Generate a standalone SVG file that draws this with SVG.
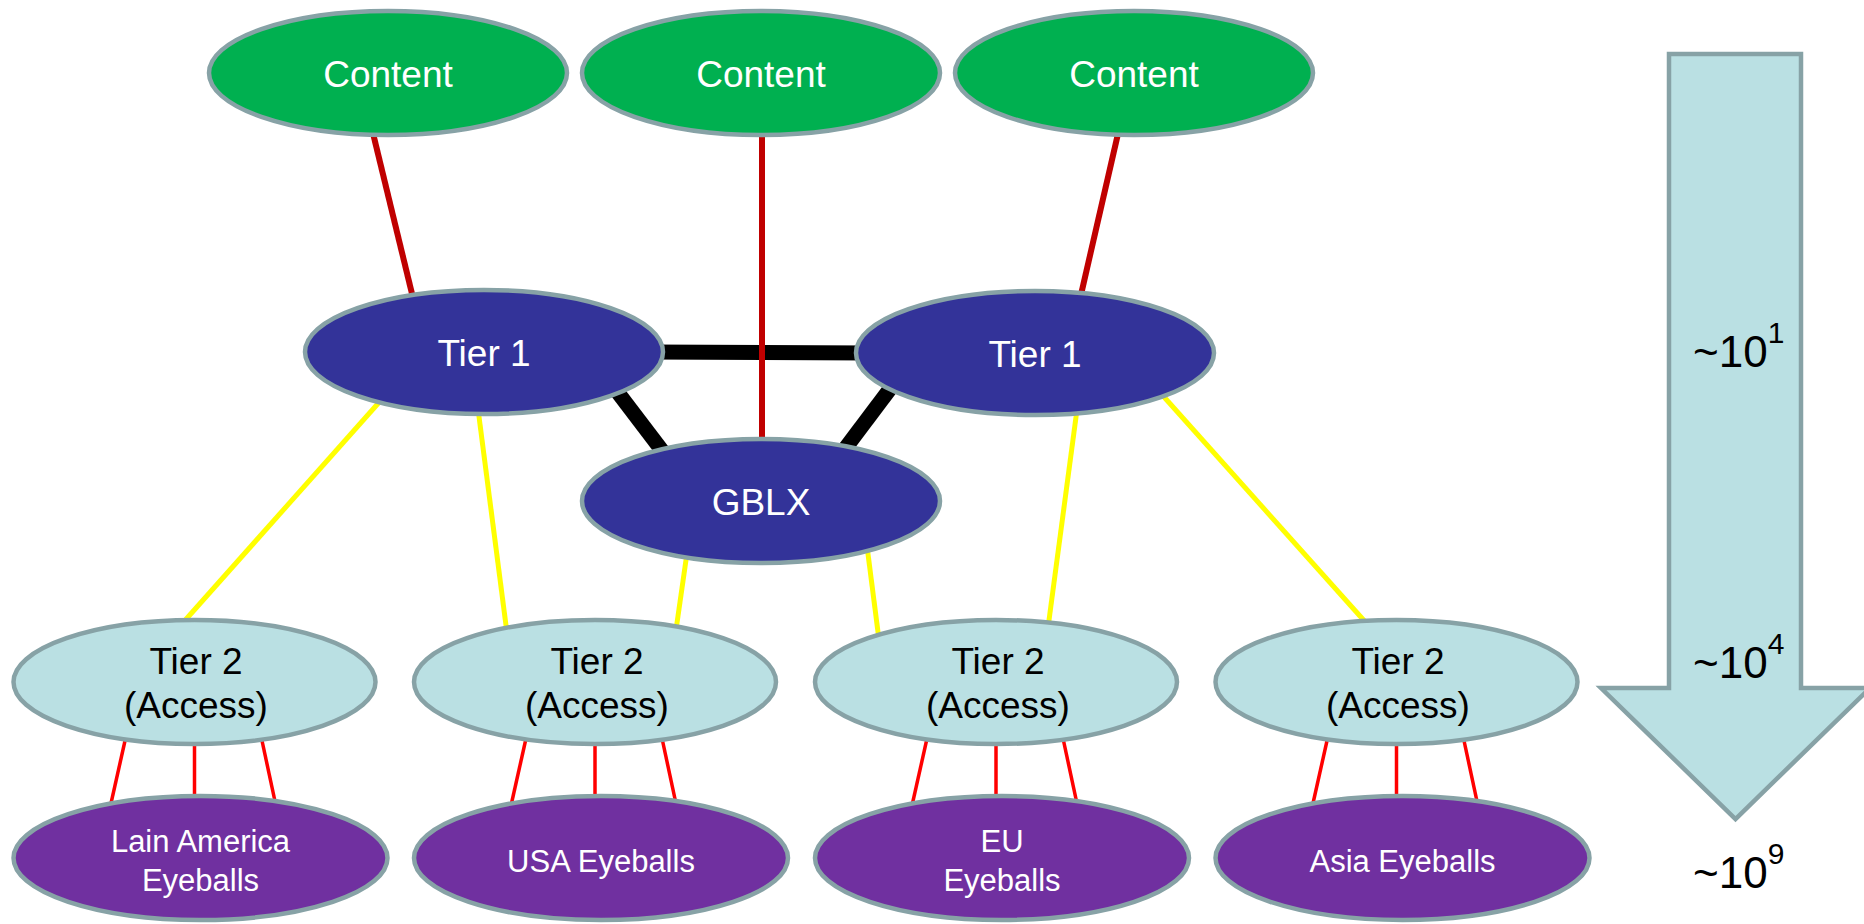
<svg xmlns="http://www.w3.org/2000/svg" width="1864" height="924" viewBox="0 0 1864 924">
  <style>
    .node { stroke: #87A2A6; stroke-width: 4.5; }
    .content { fill: #00B050; }
    .tier1 { fill: #333399; }
    .tier2 { fill: #BAE0E3; }
    .eyes { fill: #7030A0; }
    text { font-family: "Liberation Sans", Arial, sans-serif; text-anchor: middle; }
    .lbl { font-size: 37px; fill: #FFFFFF; }
    .lbl-dark { font-size: 37px; fill: #000000; }
    .lbl-small { font-size: 31px; fill: #FFFFFF; }
    .scale { font-size: 44px; fill: #000000; text-anchor: start; }
    .sup { font-size: 30px; }
    .peer { stroke: #000000; stroke-width: 15; }
    .transit { stroke: #C00000; stroke-width: 6; }
    .access { stroke: #FFFF00; stroke-width: 5; }
    .local { stroke: #FF0000; stroke-width: 3.5; }
  </style>

  <rect width="1864" height="924" fill="#FFFFFF"/>

  <!-- links between the networks -->
  <g id="connectors" fill="none">
    <!-- tier 1 peering -->
    <line class="peer" x1="650" y1="352" x2="870" y2="353"/>
    <line class="peer" x1="600" y1="369" x2="670" y2="461"/>
    <line class="peer" x1="905" y1="369" x2="838" y2="458"/>
    <!-- content uplinks -->
    <line class="transit" x1="371" y1="125" x2="414" y2="302"/>
    <line class="transit" x1="762" y1="125" x2="762" y2="445"/>
    <line class="transit" x1="1120" y1="125" x2="1080" y2="299"/>
    <!-- access uplinks -->
    <line class="access" x1="385.6" y1="395" x2="180.9" y2="625"/>
    <line class="access" x1="477.5" y1="405" x2="506.6" y2="630"/>
    <line class="access" x1="687" y1="553" x2="676" y2="630"/>
    <line class="access" x1="867.5" y1="550" x2="878.5" y2="636"/>
    <line class="access" x1="1077.6" y1="405" x2="1047.7" y2="630"/>
    <line class="access" x1="1157.8" y1="390" x2="1368" y2="625"/>
    <!-- eyeball drops -->
    <g class="local">
      <line x1="126.3" y1="735" x2="110.4" y2="806"/>
      <line x1="194.5" y1="735" x2="194.5" y2="806"/>
      <line x1="260.8" y1="735" x2="276" y2="806"/>

      <line x1="526.8" y1="735" x2="510.9" y2="806"/>
      <line x1="595" y1="735" x2="595" y2="806"/>
      <line x1="661.3" y1="735" x2="676.5" y2="806"/>

      <line x1="927.8" y1="735" x2="911.9" y2="806"/>
      <line x1="996" y1="735" x2="996" y2="806"/>
      <line x1="1062.3" y1="735" x2="1077.5" y2="806"/>

      <line x1="1328.3" y1="735" x2="1312.4" y2="806"/>
      <line x1="1396.5" y1="735" x2="1396.5" y2="806"/>
      <line x1="1462.8" y1="735" x2="1478" y2="806"/>
    </g>
  </g>

  <!-- content providers -->
  <g id="content-1">
    <ellipse class="node content" cx="388" cy="73" rx="179" ry="62"/>
    <text class="lbl" x="388" y="87">Content</text>
  </g>
  <g id="content-2">
    <ellipse class="node content" cx="761" cy="73" rx="179" ry="62"/>
    <text class="lbl" x="761" y="87">Content</text>
  </g>
  <g id="content-3">
    <ellipse class="node content" cx="1134" cy="73" rx="179" ry="62"/>
    <text class="lbl" x="1134" y="87">Content</text>
  </g>

  <!-- backbone -->
  <g id="tier1-left">
    <ellipse class="node tier1" cx="484" cy="352" rx="179" ry="62"/>
    <text class="lbl" x="484" y="366">Tier 1</text>
  </g>
  <g id="tier1-right">
    <ellipse class="node tier1" cx="1035" cy="353" rx="179" ry="62"/>
    <text class="lbl" x="1035" y="367">Tier 1</text>
  </g>
  <g id="gblx">
    <ellipse class="node tier1" cx="761" cy="501" rx="179" ry="62"/>
    <text class="lbl" x="761" y="515">GBLX</text>
  </g>

  <!-- access networks -->
  <g id="tier2-1">
    <ellipse class="node tier2" cx="194.5" cy="682" rx="181" ry="62"/>
    <text class="lbl-dark" x="196" y="674">Tier 2</text>
    <text class="lbl-dark" x="196" y="718">(Access)</text>
  </g>
  <g id="tier2-2">
    <ellipse class="node tier2" cx="595" cy="682" rx="181" ry="62"/>
    <text class="lbl-dark" x="597" y="674">Tier 2</text>
    <text class="lbl-dark" x="597" y="718">(Access)</text>
  </g>
  <g id="tier2-3">
    <ellipse class="node tier2" cx="996" cy="682" rx="181" ry="62"/>
    <text class="lbl-dark" x="998" y="674">Tier 2</text>
    <text class="lbl-dark" x="998" y="718">(Access)</text>
  </g>
  <g id="tier2-4">
    <ellipse class="node tier2" cx="1396.5" cy="682" rx="181" ry="62"/>
    <text class="lbl-dark" x="1398" y="674">Tier 2</text>
    <text class="lbl-dark" x="1398" y="718">(Access)</text>
  </g>

  <!-- end users -->
  <g id="eyeballs-latam">
    <ellipse class="node eyes" cx="200.5" cy="858" rx="187" ry="62"/>
    <text class="lbl-small" x="200.5" y="852">Lain America</text>
    <text class="lbl-small" x="200.5" y="891">Eyeballs</text>
  </g>
  <g id="eyeballs-usa">
    <ellipse class="node eyes" cx="601" cy="858" rx="187" ry="62"/>
    <text class="lbl-small" x="601" y="872">USA Eyeballs</text>
  </g>
  <g id="eyeballs-eu">
    <ellipse class="node eyes" cx="1002" cy="858" rx="187" ry="62"/>
    <text class="lbl-small" x="1002" y="852">EU</text>
    <text class="lbl-small" x="1002" y="891">Eyeballs</text>
  </g>
  <g id="eyeballs-asia">
    <ellipse class="node eyes" cx="1402.5" cy="858" rx="187" ry="62"/>
    <text class="lbl-small" x="1402.5" y="872">Asia Eyeballs</text>
  </g>

  <!-- scale arrow -->
  <g id="scale">
    <polygon class="node tier2" points="1669,54 1801,54 1801,688 1870,688 1735.5,819 1601,688 1669,688"/>
    <text class="scale" x="1693" y="367">~10<tspan class="sup" dy="-24">1</tspan></text>
    <text class="scale" x="1693" y="678">~10<tspan class="sup" dy="-24">4</tspan></text>
    <text class="scale" x="1693" y="888">~10<tspan class="sup" dy="-24">9</tspan></text>
  </g>
</svg>
